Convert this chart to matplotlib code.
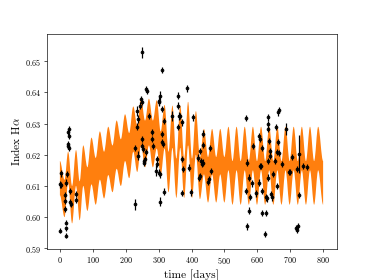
import numpy as np
import matplotlib
matplotlib.use("Agg")
import matplotlib.pyplot as plt
from matplotlib.path import Path
from matplotlib.patches import PathPatch

plt.rcParams["font.family"] = "serif"
plt.rcParams["font.serif"] = ["cmr10"]
plt.rcParams["mathtext.fontset"] = "cm"
plt.rcParams["axes.formatter.use_mathtext"] = True

# Observations: time [days], H-alpha index, error
days = [0, 1, 2, 3, 14, 15, 16, 17, 18, 20, 20, 23, 24, 26, 29, 27, 26, 27, 30, 32, 33, 48, 49,
        228, 228, 233, 233, 236, 238, 243, 245, 248, 248, 248, 250, 253, 255, 256, 258, 261, 263,
        265, 271, 279, 281, 284, 292, 294, 295, 301, 302, 304, 302, 305, 304, 309, 309, 309, 311,
        312, 316, 317,
        342, 360, 360, 362, 365, 360, 370, 370, 372, 374, 385, 393, 397, 405, 420, 424, 426, 427,
        429, 431, 436, 436, 436, 451, 454, 456, 459,
        567, 567, 569, 570, 574, 575, 578, 583, 586, 596, 605, 606, 608, 609, 612, 613, 613, 615,
        623, 626, 626, 628, 631, 633, 634, 634, 634, 636, 638, 640, 643, 646, 648, 653, 658, 659,
        661, 663, 665, 664, 666, 674, 687, 697, 699, 704, 719, 721, 723, 722, 726, 727, 739, 750]
index = [0.5956, 0.6105, 0.6140, 0.6102, 0.6070, 0.6052, 0.6027, 0.5940, 0.5964, 0.5982, 0.6111,
         0.6138, 0.6234, 0.6229, 0.6223, 0.6283, 0.6272, 0.6261, 0.6084, 0.6047, 0.6042, 0.6074,
         0.6054,
         0.6041, 0.6223, 0.6341, 0.6290, 0.6315, 0.6197, 0.6358, 0.6379, 0.6529, 0.6370, 0.6250,
         0.6229, 0.6219, 0.6181, 0.6175, 0.6185, 0.6208, 0.6411, 0.6405, 0.6325, 0.6272, 0.6250,
         0.6229, 0.6149, 0.6186, 0.6170, 0.6374, 0.6368, 0.6390, 0.6143, 0.6137, 0.6050, 0.6347,
         0.6267, 0.6240, 0.6473, 0.6234, 0.6309, 0.6082,
         0.6325, 0.6390, 0.6358, 0.6325, 0.6325, 0.6288, 0.6304, 0.6077, 0.6186, 0.6155, 0.6413,
         0.6159, 0.6079, 0.6320, 0.6191, 0.6127, 0.6213, 0.6132, 0.6181, 0.6170, 0.6268, 0.6232,
         0.6175, 0.6114, 0.6122, 0.6223, 0.6149,
         0.6317, 0.6084, 0.5970, 0.6175, 0.6021, 0.6127, 0.6065, 0.6108, 0.6229, 0.6076, 0.6111,
         0.6259, 0.6250, 0.6165, 0.6165, 0.6084, 0.6014, 0.6223, 0.5946, 0.6014, 0.6063, 0.6060,
         0.6127, 0.6320, 0.6300, 0.6283, 0.6181, 0.6245, 0.6212, 0.6197, 0.6074, 0.6063, 0.6138,
         0.6181, 0.6290, 0.6100, 0.6208, 0.6336, 0.6344, 0.6240, 0.6207, 0.6170, 0.6283, 0.6146,
         0.6145, 0.6194, 0.5966, 0.5960, 0.5971, 0.6154, 0.6072, 0.6202, 0.6165, 0.6162]
errors = [0.0008, 0.001, 0.001, 0.001, 0.001, 0.001, 0.001, 0.0008, 0.0008, 0.0008, 0.001,
          0.001, 0.001, 0.001, 0.001, 0.001, 0.001, 0.001, 0.001, 0.0012, 0.001, 0.001, 0.001,
          0.0018, 0.001, 0.0015, 0.0012, 0.0012, 0.0015, 0.001, 0.001, 0.0018, 0.001, 0.001,
          0.001, 0.001, 0.001, 0.001, 0.001, 0.001, 0.001, 0.001, 0.001, 0.001, 0.001,
          0.001, 0.0018, 0.001, 0.001, 0.0015, 0.001, 0.0015, 0.001, 0.001, 0.0015, 0.001,
          0.001, 0.001, 0.001, 0.001, 0.001, 0.001,
          0.0015, 0.001, 0.001, 0.0012, 0.001, 0.001, 0.001, 0.001, 0.001, 0.001, 0.001,
          0.001, 0.001, 0.001, 0.001, 0.001, 0.001, 0.001, 0.001, 0.001, 0.001, 0.001,
          0.001, 0.001, 0.001, 0.001, 0.001,
          0.001, 0.001, 0.001, 0.001, 0.001, 0.001, 0.001, 0.001, 0.001, 0.001, 0.001,
          0.001, 0.001, 0.001, 0.001, 0.001, 0.001, 0.001, 0.001, 0.001, 0.001, 0.001,
          0.001, 0.0012, 0.001, 0.001, 0.001, 0.001, 0.001, 0.001, 0.001, 0.001, 0.001,
          0.001, 0.001, 0.001, 0.001, 0.001, 0.001, 0.001, 0.001, 0.001, 0.002, 0.001,
          0.001, 0.001, 0.001, 0.001, 0.001, 0.001, 0.001, 0.006, 0.001, 0.001]

# Model band: edges read at each crest and each dip of the oscillation
crest_days = [0, 25, 49, 71, 96, 121.5, 147, 172.5, 198, 223, 246.8, 270.6, 294.4, 318.2,
              342, 365.8, 389.6, 413.4, 437.8, 462.6, 487.4, 512.2, 537.0, 561.8, 586.6,
              611.4, 636.2, 661.0, 685.8, 710.6, 735.4, 760.2, 785.0]
crest_upper = [0.618, 0.621, 0.6215, 0.623, 0.6255, 0.6275, 0.629, 0.631, 0.633, 0.6355, 0.638,
               0.638, 0.6375, 0.636, 0.6358, 0.6358, 0.637, 0.634, 0.6283, 0.6283, 0.6283,
               0.629, 0.629, 0.629, 0.629, 0.629, 0.629, 0.629, 0.629, 0.629, 0.629, 0.629, 0.629]
crest_lower = [0.607, 0.611, 0.610, 0.610, 0.6105, 0.612, 0.6135, 0.6155, 0.618, 0.621, 0.623,
               0.623, 0.622, 0.622, 0.6222, 0.6222, 0.623, 0.620, 0.6137, 0.6137, 0.6137,
               0.615, 0.615, 0.615, 0.615, 0.615, 0.615, 0.615, 0.615, 0.615, 0.615, 0.615, 0.615]
dip_days = [14, 37, 60, 83.5, 108.8, 134.2, 159.8, 185.2, 210.5, 234.9, 258.7, 282.5, 306.3,
            330.1, 353.9, 377.7, 401.5, 425.6, 450.2, 475.0, 499.8, 524.6, 549.4, 574.2,
            599.0, 623.8, 648.6, 673.4, 698.2, 723.0, 747.8, 772.6, 800.0]
dip_upper = [0.612, 0.610, 0.6115, 0.616, 0.619, 0.621, 0.623, 0.625, 0.627, 0.6295, 0.631,
             0.631, 0.6275, 0.621, 0.6188, 0.6188, 0.6188, 0.6192, 0.6193, 0.6193, 0.6193,
             0.618, 0.618, 0.618, 0.618, 0.618, 0.618, 0.618, 0.618, 0.618, 0.618, 0.618, 0.618]
dip_lower = [0.600, 0.598, 0.599, 0.602, 0.604, 0.606, 0.608, 0.610, 0.6125, 0.6145, 0.616,
             0.616, 0.6135, 0.608, 0.6062, 0.6062, 0.6062, 0.6058, 0.6047, 0.6047, 0.6047,
             0.604, 0.604, 0.604, 0.604, 0.604, 0.604, 0.604, 0.604, 0.604, 0.604, 0.604, 0.604]


def band_edges():
    t = np.concatenate([crest_days, dip_days])
    up = np.concatenate([crest_upper, dip_upper])
    lo = np.concatenate([crest_lower, dip_lower])
    order = np.argsort(t)
    return t[order], up[order], lo[order]


def curved_edge(t, y, verts, codes, first_code):
    """Append a smooth edge through the knots (flat tangent at each crest/dip)."""
    verts.append((t[0], y[0]))
    codes.append(first_code)
    for i in range(len(t) - 1):
        d = 0.36 * (t[i + 1] - t[i])
        verts += [(t[i] + d, y[i]), (t[i + 1] - d, y[i + 1]), (t[i + 1], y[i + 1])]
        codes += [Path.CURVE4] * 3


def main():
    fig, ax = plt.subplots(figsize=(374 / 58.4, 280 / 58.4), dpi=58.4)

    t, up, lo = band_edges()
    verts, codes = [], []
    curved_edge(t, up, verts, codes, Path.MOVETO)
    curved_edge(t[::-1], lo[::-1], verts, codes, Path.LINETO)
    verts.append(verts[0])
    codes.append(Path.CLOSEPOLY)
    ax.add_patch(PathPatch(Path(verts, codes), facecolor="#ff7f0e", lw=0, zorder=1))

    ax.errorbar(days, index, yerr=errors, fmt="o", color="k", ms=3.5,
                elinewidth=1.5, capsize=0, zorder=3)

    ax.set_xlim(-40, 841)
    ax.set_ylim(0.5897, 0.6589)
    ax.set_xticks([0, 100, 200, 300, 400, 500, 600, 700, 800])
    ax.set_yticks([0.59, 0.60, 0.61, 0.62, 0.63, 0.64, 0.65])
    ax.set_xlabel("time [days]", fontsize=14)
    ax.set_ylabel(r"Index H$\alpha$", fontsize=14)

    fig.savefig("out.png", dpi=58.4)
    plt.close(fig)


if __name__ == "__main__":
    main()
